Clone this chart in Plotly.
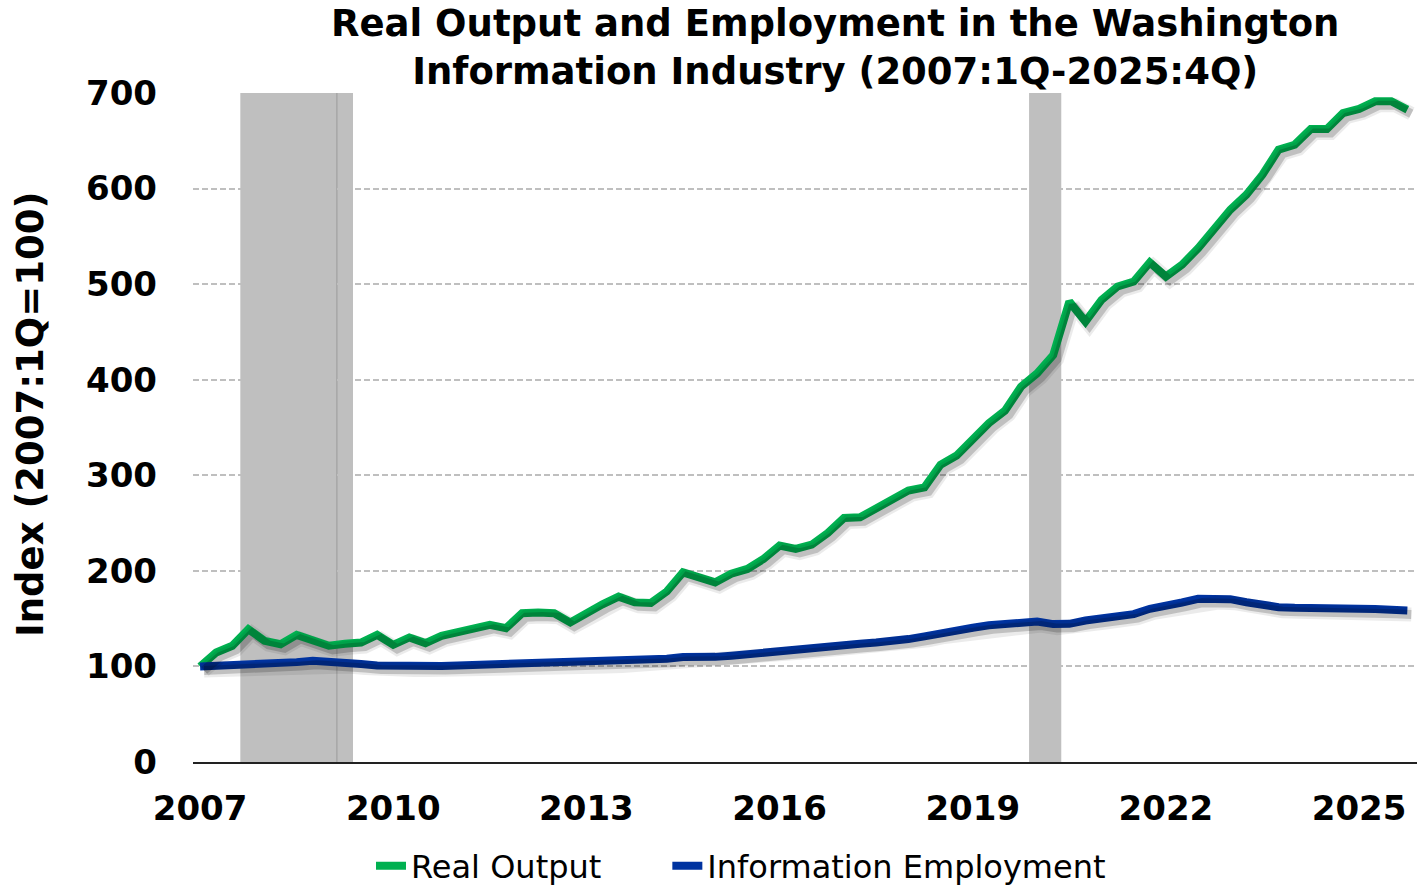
import plotly.graph_objects as go

# ---- data ----
years = list(range(2007, 2026))
quarters = [1, 2, 3, 4]
real_output = [
    100, 114.6, 121.6, 139,
    126.8, 123.3, 133, 127.9,
    121.6, 123.7, 125, 133,
    122.6, 130.3, 124.4, 132,
    135.5, 138.3, 143.5, 140,
    155.7, 156.4, 155.7, 146,
    156, 165, 173, 167,
    166.3, 178.5, 198.4, 193.2,
    188, 197, 202, 212.4,
    226.4, 222.9, 227.4, 239.6,
    255.3, 256, 265.8, 273.5,
    284, 287.4, 311, 320.6,
    338, 354.5, 367.5, 392.7,
    406.6, 425.8, 481.7, 460.8,
    483.5, 497.5, 502.7, 522.6,
    507.9, 520.2, 537.6, 558.6,
    577.8, 593.5, 614.5, 640.7,
    645.9, 662.3, 662.3, 679,
    683.3, 691.3, 691.3, 682.6,
]
info_employment = [
    100, 100.5, 101, 101,
    102, 103, 104.5, 106,
    105.5, 104, 102.5, 101,
    100.5, 100.5, 100.5, 100.5,
    101, 101.5, 102, 102.5,
    102.8, 103, 103, 103,
    103.5, 104, 104.5, 105.5,
    106.5, 108, 109.8, 109.4,
    110, 111.2, 113, 114.7,
    116.5, 118.5, 120, 121.6,
    122.7, 123.7, 125, 126.2,
    128.6, 131.5, 135, 137.5,
    140.5, 143, 144.3, 145.3,
    147, 144.3, 144.6, 148,
    150.2, 152.3, 154.7, 160.3,
    162.7, 166.9, 170.7, 171,
    170.4, 167.2, 163.8, 162,
    161.3, 161.3, 161.3, 160.6,
    161, 160, 159.2, 158.5,
]
# recessions: (first quarter, last quarter) as (year, q)
recessions = [((2007, 4), (2009, 2)), ((2020, 1), (2020, 2))]
tick_years = [2007, 2010, 2013, 2016, 2019, 2022, 2025]
y_ticks = [0, 100, 200, 300, 400, 500, 600, 700]
title_lines = ["Real Output and Employment in the Washington",
               "Information Industry (2007:1Q-2025:4Q)"]
y_title = "Index (2007:1Q=100)"
series_names = ["Real Output", "Information Employment"]

x = [y + (q - 1) / 4 for y in years for q in quarters]

GREEN = "#00B050"
BLUE = "#0033A0"
FONT = "DejaVu Sans"

W, H = 1423, 888
ml, mr, mt, mb = 193, 6, 93, 126
xr = [2006.89, 2025.90]
yr = [0, 700]
pw = W - ml - mr
ph = H - mt - mb
off = 4
dx = off * (xr[1] - xr[0]) / pw
dy = off * (yr[1] - yr[0]) / ph

fig = go.Figure()

# drop-shadow traces on offset overlay axes
for vals in (real_output, info_employment):
    fig.add_trace(go.Scatter(x=x, y=vals, mode="lines", xaxis="x2", yaxis="y2",
                             line=dict(color="rgba(0,0,0,0.08)", width=14),
                             hoverinfo="skip", showlegend=False))
    fig.add_trace(go.Scatter(x=x, y=vals, mode="lines", xaxis="x2", yaxis="y2",
                             line=dict(color="rgba(0,0,0,0.18)", width=9),
                             hoverinfo="skip", showlegend=False))

fig.add_trace(go.Scatter(x=x, y=real_output, mode="lines",
                         name=series_names[0] + "\u00a0" * 6,
                         line=dict(color=GREEN, width=8)))
fig.add_trace(go.Scatter(x=x, y=info_employment, mode="lines", name=series_names[1],
                         line=dict(color=BLUE, width=8)))

shapes = []
for (a, b) in recessions:
    x0 = a[0] + (a[1] - 1) / 4 - 0.125
    x1 = b[0] + (b[1] - 1) / 4 + 0.125
    shapes.append(dict(type="rect", xref="x", yref="y", x0=x0, x1=x1, y0=0, y1=700,
                       fillcolor="#BFBFBF", line=dict(width=0), layer="below"))
shapes.append(dict(type="line", xref="x", yref="y", x0=2009.125, x1=2009.125, y0=0, y1=700,
                   line=dict(color="#9a9a9a", width=1), layer="below"))

fig.update_layout(
    width=W, height=H,
    margin=dict(l=ml, r=mr, t=mt, b=mb, autoexpand=False),
    paper_bgcolor="white", plot_bgcolor="white",
    font=dict(family=FONT, color="black"),
    annotations=[
        dict(text="<b>" + "<br>".join(title_lines) + "</b>",
             xref="paper", yref="paper",
             x=(835 - ml) / pw, y=1 + (mt - 0) / ph,
             xanchor="center", yanchor="top", showarrow=False, align="center",
             font=dict(family=FONT, size=37, color="black")),
        dict(text="<b>" + y_title + "</b>", textangle=-90,
             xref="paper", yref="paper",
             x=(30 - ml) / pw, y=(mt + ph - 415) / ph,
             xanchor="center", yanchor="middle", showarrow=False,
             font=dict(family=FONT, size=37, color="black")),
    ],
    xaxis=dict(range=xr, tickvals=tick_years, ticktext=[str(t) for t in tick_years],
               showgrid=False, zeroline=False, showline=True, linecolor="#222222", linewidth=2,
               ticks="", ticklabelstandoff=15, automargin=False,
               tickfont=dict(family=FONT, size=34, color="black", weight="bold")),
    yaxis=dict(range=yr, tickvals=y_ticks, showgrid=True, gridcolor="#BFBFBF", gridwidth=1.5,
               griddash="6px,3px", zeroline=False, showline=False, ticks="",
               ticklabelstandoff=35, automargin=False,
               tickfont=dict(family=FONT, size=34, color="black", weight="bold")),
    xaxis2=dict(range=[xr[0] - dx, xr[1] - dx], overlaying="x", visible=False),
    yaxis2=dict(range=[yr[0] + dy, yr[1] + dy], overlaying="y", visible=False),
    shapes=shapes,
    legend=dict(orientation="h", xref="container", yref="container",
                x=371 / W, xanchor="left", y=1 - 866 / H, yanchor="middle",
                font=dict(family=FONT, size=32, color="black"),
                bgcolor="rgba(0,0,0,0)", tracegroupgap=0, borderwidth=0),
    showlegend=True,
)

fig.write_html("out.html", config={"displayModeBar": False},
               post_script="document.body.style.margin='0px';")
